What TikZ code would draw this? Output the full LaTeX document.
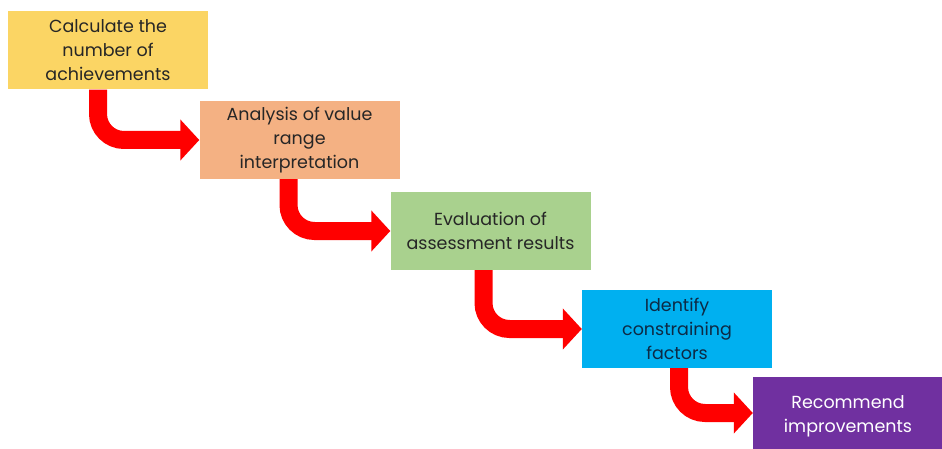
\documentclass[tikz,border=0pt]{standalone}
\usepackage{fontspec}
\setmainfont{Poppins}
\usetikzlibrary{arrows.meta,positioning}
\definecolor{stepyellow}{HTML}{FBD564}
\definecolor{steppeach}{HTML}{F4B183}
\definecolor{stepgreen}{HTML}{A9D18E}
\definecolor{stepblue}{HTML}{00B0F0}
\definecolor{steppurple}{HTML}{7030A0}
\definecolor{steptext}{HTML}{262626}
\definecolor{stepnavy}{HTML}{0D2A45}

\begin{document}
\begin{tikzpicture}[x=1pt,y=-1pt,
  stepbox/.style={minimum width=200pt, minimum height=78pt, align=center,
    inner sep=0pt, text=steptext, font=\fontsize{17.5}{24}\selectfont},
  flow/.style={draw=red, line width=18pt, rounded corners=26pt,
    -{Triangle[length=19pt, width=40pt]}}]
  \useasboundingbox (0,0) rectangle (942,449);
  \node[stepbox, fill=stepyellow] (calc) at (108,50.5) {Calculate the\\number of\\achievements};
  \node[stepbox, fill=steppeach] (anal) at (299.5,140) {Analysis of value\\range\\interpretation};
  \node[stepbox, fill=stepgreen] (eval) at (490.5,231) {Evaluation of\\assessment results};
  \node[stepbox, fill=stepblue, minimum width=190pt, text=stepnavy] (ident) at (677,329) {Identify\\constraining\\factors};
  \node[stepbox, fill=steppurple, minimum width=190pt, text=white] (recom) at (848,416) {Recommend\\improvements};
  % bent arrows
  \draw[flow] ([xshift=-10pt]calc.south) |- (anal.west);
  \draw[flow] ([xshift=-11pt]anal.south) |- (eval.west);
  \draw[flow] ([xshift=-7pt]eval.south) |- (ident.west);
  \draw[flow] ([xshift=2pt]ident.south) |- ([yshift=3pt]recom.west);
\end{tikzpicture}
\end{document}
